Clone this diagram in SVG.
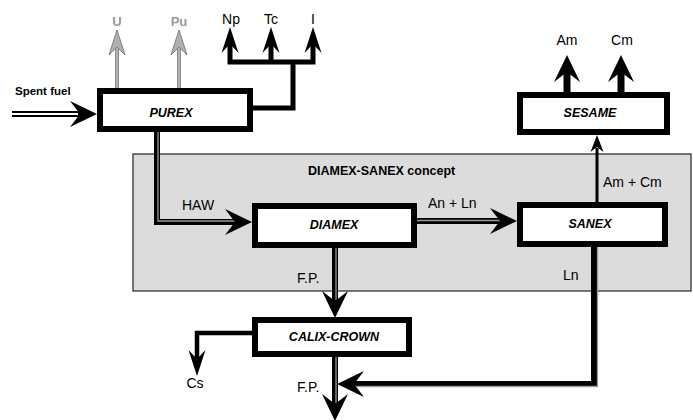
<svg xmlns="http://www.w3.org/2000/svg" width="693" height="420" viewBox="0 0 693 420">
<style>
.box{fill:#fff;stroke:#000;stroke-width:6}
.bt{font-family:"Liberation Sans",Arial,sans-serif;font-weight:bold;font-style:italic;font-size:12.5px;text-anchor:middle;fill:#000}
.lbl{font-family:"Liberation Sans",Arial,sans-serif;font-size:14px;fill:#000}
.blk{fill:none;stroke:#000;stroke-linejoin:miter}
.dbl{fill:none;stroke:#000;stroke-width:6}
.mid{fill:none;stroke:#9a9a9a;stroke-width:1.3}
</style>
<defs>
<path id="ah" d="M0,0 L-27,-13 L-17,0 L-27,13 Z" fill="#000"/>
<path id="ahn" d="M0,0 L-26,-8.5 L-17,0 L-26,8.5 Z" fill="#000"/>
<path id="ahs" d="M0,0 L-17,-6.5 L-12,0 L-17,6.5 Z" fill="#000"/>
<path id="ahg" d="M0,0 L-25,-8 L-17,0 L-25,8 Z" fill="#b0b0b0" stroke="#808080" stroke-width="1"/>
</defs>
<g id="concept">
<rect x="133" y="154" width="558" height="137" fill="#dcdcdc" stroke="#333" stroke-width="1.3"/>
<text x="308" y="175" font-family="Liberation Sans,Arial,sans-serif" font-weight="bold" font-size="12.5">DIAMEX-SANEX concept</text>
</g>
<g id="connectors">
<!-- spent fuel -->
<line x1="12" y1="114" x2="80" y2="114" stroke="#000" stroke-width="6"/>
<line x1="12" y1="114" x2="78" y2="114" stroke="#fff" stroke-width="2"/>
<use href="#ah" transform="translate(97,114)"/>
<!-- U / Pu gray -->
<line x1="117" y1="88" x2="117" y2="45" stroke="#8a8a8a" stroke-width="4"/>
<line x1="117" y1="88" x2="117" y2="45" stroke="#b5b5b5" stroke-width="2"/>
<use href="#ahg" transform="translate(117,30) rotate(-90)"/>
<line x1="179" y1="88" x2="179" y2="45" stroke="#8a8a8a" stroke-width="4"/>
<line x1="179" y1="88" x2="179" y2="45" stroke="#b5b5b5" stroke-width="2"/>
<use href="#ahg" transform="translate(179,30) rotate(-90)"/>
<!-- Np Tc I -->
<polyline class="blk" stroke-width="5" points="253,108 293,108 293,62"/>
<polyline class="blk" stroke-width="5" points="230,42 230,62 313,62 313,42"/>
<line x1="271" y1="62" x2="271" y2="42" stroke="#000" stroke-width="5"/>
<use href="#ahn" transform="translate(230,27) rotate(-90)"/>
<use href="#ahn" transform="translate(271,27) rotate(-90)"/>
<use href="#ahn" transform="translate(313,27) rotate(-90)"/>
<!-- Am Cm -->
<line x1="567" y1="92" x2="567" y2="70" stroke="#000" stroke-width="7"/>
<line x1="621" y1="92" x2="621" y2="70" stroke="#000" stroke-width="7"/>
<use href="#ah" transform="translate(567,55) rotate(-90)"/>
<use href="#ah" transform="translate(621,55) rotate(-90)"/>
<!-- HAW -->
<polyline class="dbl" points="157,132 157,222 237,222"/>
<polyline class="mid" points="158,132 158,221 236,221"/>
<use href="#ah" transform="translate(252,222)"/>
<!-- An + Ln -->
<line x1="417" y1="221" x2="502" y2="221" stroke="#000" stroke-width="6"/>
<line x1="417" y1="220.5" x2="500" y2="220.5" stroke="#9a9a9a" stroke-width="1.3"/>
<use href="#ah" transform="translate(517,221)"/>
<!-- SANEX to SESAME -->
<line x1="597" y1="202" x2="597" y2="148" stroke="#000" stroke-width="3"/>
<use href="#ahs" transform="translate(597,135) rotate(-90)"/>
<!-- Ln -->
<polyline class="dbl" points="594,247 594,384 350,384"/>
<polyline class="mid" points="597.5,247 597.5,386.5 352,386.5"/>
<use href="#ah" transform="translate(337,384) rotate(180)"/>
<!-- DIAMEX F.P. -->
<line x1="335" y1="248" x2="335" y2="302" stroke="#000" stroke-width="6"/>
<line x1="336" y1="248" x2="336" y2="300" stroke="#9a9a9a" stroke-width="1.3"/>
<use href="#ah" transform="translate(335,318) rotate(90)"/>
<!-- Cs -->
<polyline class="blk" stroke-width="4.5" points="252,333 197,333 197,360"/>
<use href="#ahn" transform="translate(197,376) rotate(90)"/>
<!-- bottom F.P. -->
<line x1="335" y1="357" x2="335" y2="405" stroke="#000" stroke-width="6"/>
<line x1="336" y1="357" x2="336" y2="403" stroke="#9a9a9a" stroke-width="1.3"/>
<use href="#ah" transform="translate(335,421) rotate(90)"/>
</g>
<g id="purex">
<rect class="box" x="100" y="91" width="150" height="38"/>
<text class="bt" x="171" y="117">PUREX</text>
</g>
<g id="sesame">
<rect class="box" x="520" y="95" width="147" height="37"/>
<text class="bt" x="590" y="117">SESAME</text>
</g>
<g id="diamex">
<rect class="box" x="255" y="206" width="159" height="39"/>
<text class="bt" x="334" y="229">DIAMEX</text>
</g>
<g id="sanex">
<rect class="box" x="520" y="205" width="145" height="39"/>
<text class="bt" x="590" y="228">SANEX</text>
</g>
<g id="calix">
<rect class="box" x="255" y="320" width="154" height="34"/>
<text class="bt" x="334" y="341">CALIX-CROWN</text>
</g>
<g id="labels">
<text x="15" y="95" font-family="Liberation Sans,Arial,sans-serif" font-weight="bold" font-size="11.5">Spent fuel</text>
<text x="117" y="26" font-family="Liberation Sans,Arial,sans-serif" font-weight="bold" font-size="13" fill="#999" text-anchor="middle">U</text>
<text x="179" y="26" font-family="Liberation Sans,Arial,sans-serif" font-weight="bold" font-size="13" fill="#999" text-anchor="middle">Pu</text>
<text class="lbl" x="231" y="24" text-anchor="middle">Np</text>
<text class="lbl" x="271" y="24" text-anchor="middle">Tc</text>
<text class="lbl" x="313" y="24" text-anchor="middle">I</text>
<text class="lbl" x="567" y="45" text-anchor="middle">Am</text>
<text class="lbl" x="622" y="45" text-anchor="middle">Cm</text>
<text class="lbl" x="182" y="210">HAW</text>
<text class="lbl" x="428" y="208">An + Ln</text>
<text class="lbl" x="603" y="187">Am + Cm</text>
<text class="lbl" x="563" y="280">Ln</text>
<text class="lbl" x="297" y="283">F.P.</text>
<text class="lbl" x="195" y="388" text-anchor="middle">Cs</text>
<text class="lbl" x="297" y="392">F.P.</text>
</g>
</svg>
